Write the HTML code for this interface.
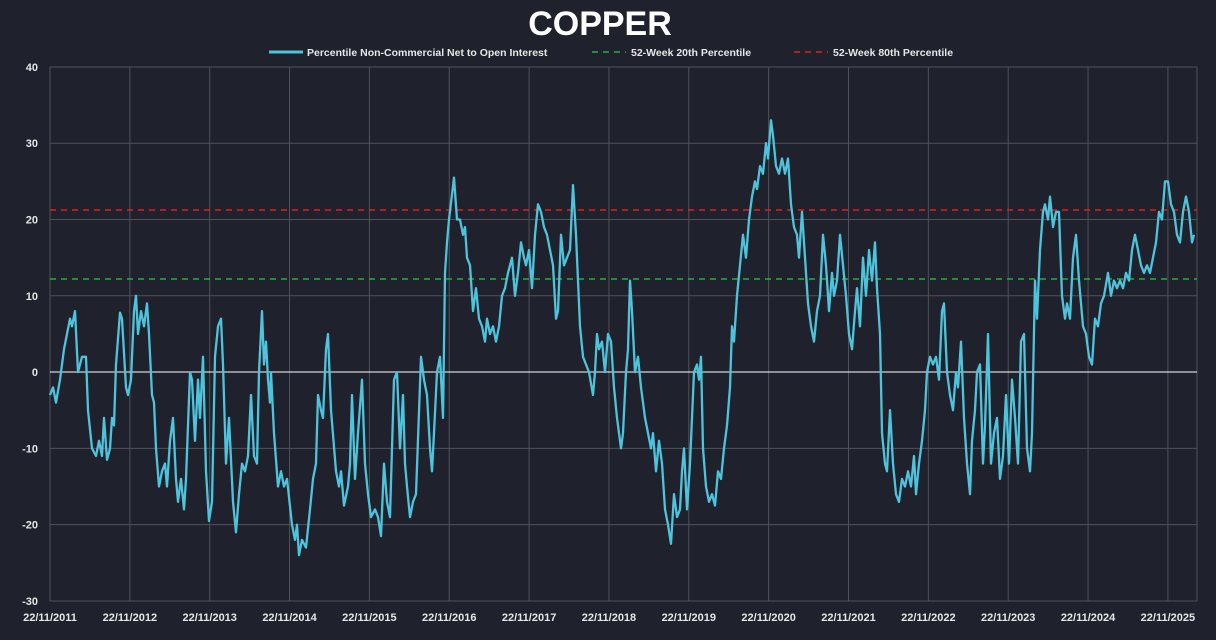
<!DOCTYPE html>
<html><head><meta charset="utf-8"><style>
html,body{margin:0;padding:0;background:#1f222c;}
svg text{font-family:"Liberation Sans",sans-serif;font-weight:bold;fill:#e6e6e6;}
</style></head><body>
<svg id="s" width="1216" height="635" viewBox="0 0 1216 635" xmlns="http://www.w3.org/2000/svg">
<rect width="1216" height="635" fill="#1f222c"/>
<text x="600" y="35" text-anchor="middle" font-size="34" style="fill:#fff">COPPER</text>
<line x1="269" y1="52" x2="303" y2="52" stroke="#4ec3dc" stroke-width="3"/>
<text x="307" y="56" font-size="10.5">Percentile Non-Commercial Net to Open Interest</text>
<line x1="592" y1="52" x2="626" y2="52" stroke="#1db341" stroke-width="1.5" stroke-dasharray="6,5"/>
<text x="631" y="56" font-size="10.5">52-Week 20th Percentile</text>
<line x1="794" y1="52" x2="828" y2="52" stroke="#e0201e" stroke-width="1.5" stroke-dasharray="6,5"/>
<text x="833" y="56" font-size="10.5">52-Week 80th Percentile</text>
<g id="grid" stroke="#505259" stroke-width="1"></g>
<line x1="50" y1="372" x2="1197" y2="372" stroke="#ffffff" stroke-width="1"/>
<line x1="50" y1="279" x2="1197" y2="279" stroke="#1db341" stroke-width="1.5" stroke-dasharray="6,5"/>
<line x1="50" y1="210" x2="1197" y2="210" stroke="#e0201e" stroke-width="1.5" stroke-dasharray="6,5"/>
<polyline id="ln" fill="none" stroke="#4ec3dc" stroke-width="2.3" stroke-linejoin="round"/>
<g id="lab"></g>
</svg>
<script>
var ns="http://www.w3.org/2000/svg",g=document.getElementById('grid'),lab=document.getElementById('lab');
function Y(v){return 372.1-v*7.629;}
function el(p,t,a){var e=document.createElementNS(ns,t);for(var k in a)e.setAttribute(k,a[k]);p.appendChild(e);return e;}
for(var v=-30;v<=40;v+=10){if(v!==0)el(g,'line',{x1:50,x2:1197,y1:Y(v),y2:Y(v)});var t=el(lab,'text',{x:38,y:Y(v)+4,'text-anchor':'end','font-size':11});t.textContent=v;}
for(var i=0;i<15;i++){var x=50+i*79.85;el(g,'line',{x1:x,x2:x,y1:67,y2:601});var t=el(lab,'text',{x:x,y:621,'text-anchor':'middle','font-size':11});t.textContent='22/11/'+(2011+i);}
el(g,'line',{x1:1197,x2:1197,y1:67,y2:601});
var d=[50,-3,53,-2,56,-4,60,-1,64,3,67,5,70,7,72,6,75,8,78,0,82,2,86,2,88,-5,92,-10,96,-11,99,-9,102,-11,104,-6,107,-11.5,110,-10,112,-6,114,-7,116,1,120,7.8,122,7,126,-2,128,-3,131,-1,134,8,136,10,138,5,141,8,144,6,147,9,149,5,152,-3,154,-4,156,-10,159,-15,162,-13,165,-12,167,-15,170,-9,173,-6,176,-14,178,-17,181,-14,184,-18,186,-14,190,0,192,-1,195,-9,198,-1,200,-6,203,2,206,-13,209,-19.5,212,-17,215,2,218,6,221,7,223,1,226,-12,229,-6,233,-17,236,-21,239,-16,242,-12,245,-13,248,-11,251,-3,254,-11,257,-12,259,0,262,8,264,1,266,4,268,-1,270,-4,271,0,274,-8,278,-15,281,-13,284,-15,287,-14,292,-20,295,-22,297,-20,299,-24,302,-22,306,-23,310,-18,313,-14,316,-12,318,-3,321,-5,323,-6,326,3,328,5,331,-5,336,-13,339,-15,341,-13,344,-17.5,348,-15,350,-12,352,-3,355,-14,358,-8,362,-1,365,-12,368,-16,371,-19,375,-18,378,-19,381,-21.5,384,-12,387,-17,390,-19,394,-1,397,0,400,-10,403,-3,405,-12,407,-15,410,-19,413,-17,416,-16,421,2,424,-1,427,-3,430,-10,432,-13,434,-8,437,0,440,2,443,-6,445,13,447,17,449,20,454,25.5,457,20,460,20,463,18,465,19,467,15,470,14,473,8,476,11,479,7,482,6,485,4,487,7,490,5,493,6,496,4,499,6,502,10,505,11,508,13,512,15,515,10,518,13,521,17,524,15,526,14,529,16,532,11,535,18,538,22,541,21,544,19,547,18,550,16,553,14,556,7,558,8,561,18,564,14,567,15,570,16,573,24.5,576,18,578,12,580,6,583,2,586,1,589,0,593,-3,595,0,597,5,599,3,602,4,605,0,608,5,611,4,614,-2,617,-6,621,-10,623,-8,626,0,628,3,630,12,632,8,635,0,638,2,641,-2,645,-6,648,-8,651,-10,653,-8,656,-13,659,-9,662,-12,665,-18,668,-20,671,-22.5,674,-16,677,-19,680,-18,682,-13,684,-10,687,-18,690,-12,694,0,697,1,699,-1,701,2,703,-10,706,-15,709,-17,712,-16,715,-17.5,718,-13,721,-14,724,-10,727,-7,730,-2,732,6,734,4,737,10,740,14,743,18,746,15,749,20,752,23,755,25,757,24,760,27,763,26,766,30,768,28,771,33,773,31,776,27,779,26,782,28,785,26,788,28,791,22,794,19,797,18,799,15,802,21,805,15,808,9,811,6,814,4,817,8,820,10,823,18,826,14,829,8,832,13,834,10,837,12,840,18,843,14,846,10,849,5,852,3,855,8,857,11,860,6,863,15,866,10,869,16,872,12,875,17,877,11,880,5,882,-8,885,-12,887,-13,890,-5,893,-12,896,-16,899,-17,902,-14,905,-15,908,-13,911,-15,914,-11,916,-16,919,-12,922,-9,925,-5,927,0,930,2,933,1,936,2,939,-1,942,8,944,9,947,0,950,-3,953,-5,956,0,958,-2,961,4,964,-6,967,-12,970,-16,972,-9,975,-5,977,0,980,1,983,-12,985,-7,988,5,991,-12,994,-8,997,-6,1000,-14,1003,-11,1006,-3,1009,-12,1012,-1,1015,-6,1018,-12,1021,4,1024,5,1027,-10,1030,-13,1032,-8,1035,12,1037,7,1040,16,1043,21,1045,22,1048,20,1050,23,1053,19,1056,21,1059,21,1062,10,1065,7,1067,9,1070,7,1073,15,1076,18,1079,12,1083,6,1086,5,1089,2,1092,1,1095,7,1098,6,1101,9,1104,10,1108,13,1111,10,1114,12,1117,11,1120,12,1123,11,1126,13,1129,12,1132,16,1135,18,1138,16,1141,14,1144,13,1147,14,1150,13,1153,15,1156,17,1159,21,1162,20,1165,25,1168,25,1171,22,1174,21,1177,18,1180,17,1183,21,1186,23,1189,21,1192,17,1194,18];
var p=[];for(var i=0;i<d.length;i+=2)p.push(d[i]+','+Y(d[i+1]).toFixed(1));
document.getElementById('ln').setAttribute('points',p.join(' '));
</script>
</body></html>
